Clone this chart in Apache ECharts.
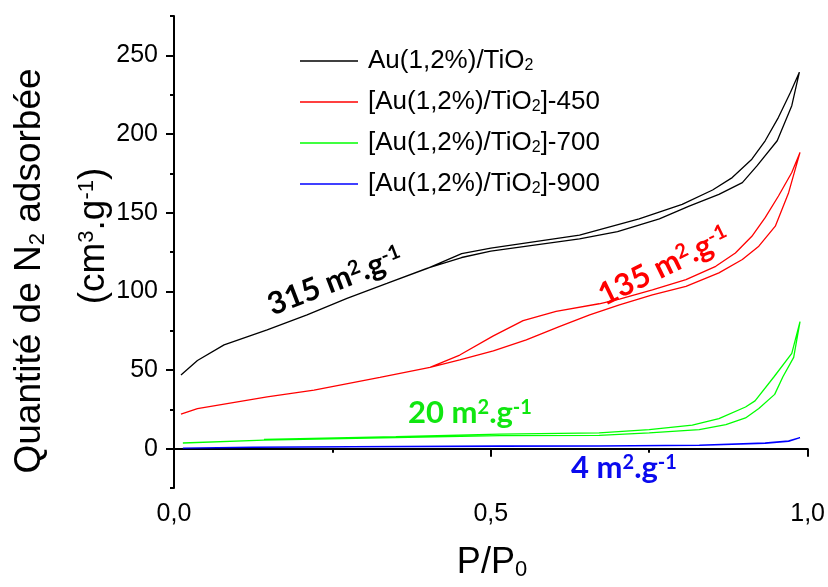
<!DOCTYPE html>
<html>
<head>
<meta charset="utf-8">
<script src="https://cdn.jsdelivr.net/npm/echarts@6/dist/echarts.min.js"></script>
<style>html,body{margin:0;padding:0;background:#fff}#c{width:828px;height:587px}</style>
</head>
<body>
<div id="c"></div>
<script>
// ---------- data ----------
const seriesNames = ['Au(1,2%)/TiO2', '[Au(1,2%)/TiO2]-450', '[Au(1,2%)/TiO2]-700', '[Au(1,2%)/TiO2]-900'];
const seriesColors = ['#000000', '#ff0000', '#00ff00', '#0000ff'];

// Au(1,2%)/TiO2
const blackAdsX = [0.011, 0.037, 0.079, 0.147, 0.21, 0.273, 0.336, 0.399, 0.454, 0.5, 0.64, 0.70, 0.766, 0.813, 0.86, 0.897, 0.92, 0.952, 0.975, 0.987];
const blackAdsY = [46.8, 56.0, 66.0, 75.5, 85.0, 95.5, 105.0, 114.6, 121.5, 125.5, 133.4, 138.0, 146.1, 154.2, 161.6, 169.1, 179.7, 195.7, 218.0, 239.3];
const blackDesX = [0.973, 0.954, 0.933, 0.912, 0.881, 0.85, 0.802, 0.734, 0.64, 0.5, 0.454, 0.40, 0.336, 0.273, 0.21, 0.147];
const blackDesY = [226.5, 210.6, 195.7, 184.0, 172.3, 164.4, 155.3, 146.1, 135.7, 127.4, 124.0, 114.6, 105.0, 95.5, 85.0, 75.5];

// -450
const redAdsX = [0.011, 0.037, 0.147, 0.221, 0.325, 0.404, 0.451, 0.504, 0.556, 0.608, 0.656, 0.703, 0.755, 0.808, 0.86, 0.897, 0.923, 0.949, 0.970, 0.988];
const redAdsY = [22.0, 25.5, 32.9, 37.2, 45.3, 51.7, 56.4, 62.1, 69.1, 77.6, 85.1, 91.4, 97.8, 103.1, 111.7, 120.2, 128.7, 141.4, 162.7, 188.3];
const redDesX = [0.975, 0.954, 0.933, 0.912, 0.886, 0.855, 0.808, 0.755, 0.703, 0.671, 0.603, 0.551, 0.504, 0.451, 0.404, 0.325, 0.221, 0.147];
const redDesY = [175.5, 160.6, 146.8, 135.0, 124.4, 115.9, 107.4, 101.0, 95.1, 92.1, 87.2, 81.4, 71.7, 59.5, 51.7, 45.3, 37.2, 32.9];

// -700
const greenAdsX = [0.014, 0.142, 0.35, 0.514, 0.671, 0.75, 0.829, 0.871, 0.902, 0.923, 0.948, 0.961, 0.978, 0.988];
const greenAdsY = [3.6, 5.4, 7.0, 8.3, 8.5, 10.0, 12.1, 15.3, 19.5, 25.5, 34.5, 45.7, 58.0, 80.8];
const greenDesX = [0.975, 0.947, 0.917, 0.902, 0.86, 0.818, 0.75, 0.671, 0.514, 0.35, 0.142];
const greenDesY = [60.6, 45.7, 30.4, 26.5, 19.1, 14.9, 12.1, 10.0, 9.3, 7.6, 5.9];

// -900
const blueAdsX = [0.014, 0.124, 0.514, 0.671, 0.829, 0.933, 0.97, 0.988];
const blueAdsY = [0.4, 0.9, 1.7, 1.7, 2.3, 3.6, 4.9, 7.0];
const blueDesX = [0.97, 0.933, 0.829, 0.671, 0.514, 0.124];
const blueDesY = [4.6, 3.3, 2.1, 1.6, 1.5, 1.0];

const yLabelValues = [0, 50, 100, 150, 200, 250];
const areaLabels = ['315', '135', '20', '4'];

// ---------- chart ----------
function zip(xs, ys) { return xs.map((x, i) => [x, ys[i]]); }
const loops = [
  zip(blackAdsX, blackAdsY).concat(zip(blackDesX, blackDesY)),
  zip(redAdsX, redAdsY).concat(zip(redDesX, redDesY)),
  zip(greenAdsX, greenAdsY).concat(zip(greenDesX, greenDesY)),
  zip(blueAdsX, blueAdsY).concat(zip(blueDesX, blueDesY))
];

const FF = '"Liberation Sans", Arial, sans-serif';
const LF = 'Lato, "Open Sans", sans-serif';

function legendFmt(name) {
  const parts = name.split('TiO2');
  let s = '{pad|}';
  parts.forEach((p, i) => {
    if (p) s += '{n|' + p + '}';
    if (i < parts.length - 1) s += '{n|TiO}{s|2}';
  });
  return s;
}

const chart = echarts.init(document.getElementById('c'), null, { renderer: 'canvas' });

function areaText(val, color, x, y, rotDeg) {
  return {
    type: 'text', x: x, y: y, rotation: rotDeg * Math.PI / 180, z: 10,
    style: {
      text: '{a|' + val + ' m}{p|2}{a|.g}{p|-1}',
      align: 'center', verticalAlign: 'middle',
      rich: {
        a: { fontFamily: LF, fontWeight: 'bold', fontSize: 31, lineHeight: 31, fill: color, color: color },
        p: { fontFamily: LF, fontWeight: 'bold', fontSize: 20, lineHeight: 8, verticalAlign: 'top', fill: color, color: color }
      }
    }
  };
}

chart.setOption({
  animation: false,
  backgroundColor: '#ffffff',
  grid: { left: 174, right: 19, top: 16, bottom: 99, containLabel: false },
  legend: {
    orient: 'vertical', left: 300, top: 48, itemGap: 15, padding: 0,
    itemWidth: 58, itemHeight: 1.5, icon: 'rect',
    data: seriesNames,
    formatter: legendFmt,
    textStyle: {
      rich: {
        pad: { width: 5 },
        n: { fontFamily: FF, fontSize: 26, lineHeight: 26, color: '#000' },
        s: { fontFamily: FF, fontSize: 16, lineHeight: 6, verticalAlign: 'bottom', color: '#000' }
      }
    }
  },
  xAxis: {
    type: 'value', min: 0, max: 1, interval: 0.5,
    axisLine: { show: true, lineStyle: { color: '#000', width: 2 } },
    axisTick: { show: true, length: 8, lineStyle: { color: '#000', width: 2 } },
    minorTick: { show: true, splitNumber: 2, length: 4, lineStyle: { color: '#000', width: 2 } },
    axisLabel: { fontFamily: FF, fontSize: 25, color: '#000', margin: 14,
      formatter: v => v.toFixed(1).replace('.', ',') },
    splitLine: { show: false }
  },
  yAxis: [
    {
      type: 'value', min: -25, max: 275, interval: 25, position: 'left',
      axisLine: { show: true, lineStyle: { color: '#000', width: 2 } },
      axisTick: { show: true, length: 4, lineStyle: { color: '#000', width: 2 } },
      axisLabel: { show: false },
      splitLine: { show: false }
    },
    {
      type: 'value', min: -25, max: 275, interval: 25, position: 'left', offset: 0,
      axisLine: { show: false },
      axisTick: { show: true, length: 8, customValues: yLabelValues, lineStyle: { color: '#000', width: 2 } },
      axisLabel: { show: true, customValues: yLabelValues, fontFamily: FF, fontSize: 25, color: '#000', margin: 16 },
      splitLine: { show: false }
    }
  ],
  series: loops.map((d, i) => ({
    name: seriesNames[i], type: 'line', data: d, yAxisIndex: 0,
    showSymbol: false, symbol: 'none', smooth: false,
    lineStyle: { color: seriesColors[i], width: 1.3 },
    itemStyle: { color: seriesColors[i] }
  })),
  graphic: [
    {
      type: 'text', x: 30, y: 271, rotation: Math.PI / 2,
      style: {
        text: '{n|Quantité de N}{s|2}{n| adsorbée}', align: 'center', verticalAlign: 'middle',
        rich: {
          n: { fontFamily: FF, fontSize: 37, lineHeight: 37, fill: '#000' },
          s: { fontFamily: FF, fontSize: 22, lineHeight: 10, verticalAlign: 'bottom', fill: '#000' }
        }
      }
    },
    {
      type: 'text', x: 94, y: 236, rotation: Math.PI / 2,
      style: {
        text: '{n|(cm}{p|3}{n|.g}{p|-1}{n|)}', align: 'center', verticalAlign: 'middle',
        rich: {
          n: { fontFamily: FF, fontSize: 37, lineHeight: 37, fill: '#000' },
          p: { fontFamily: FF, fontSize: 22, lineHeight: 10, verticalAlign: 'top', fill: '#000' }
        }
      }
    },
    {
      type: 'text', x: 492, y: 563,
      style: {
        text: '{n|P/P}{s|0}', align: 'center', verticalAlign: 'middle',
        rich: {
          n: { fontFamily: FF, fontSize: 36, lineHeight: 36, fill: '#000' },
          s: { fontFamily: FF, fontSize: 22, lineHeight: 8, verticalAlign: 'bottom', fill: '#000' }
        }
      }
    },
    areaText(areaLabels[0], '#000000', 335, 281, 21),
    areaText(areaLabels[1], '#ff0000', 664, 266, 26),
    areaText(areaLabels[2], '#10e610', 470, 413, 0),
    areaText(areaLabels[3], '#0a0aee', 624, 468, 0)
  ]
});
</script>
</body>
</html>
